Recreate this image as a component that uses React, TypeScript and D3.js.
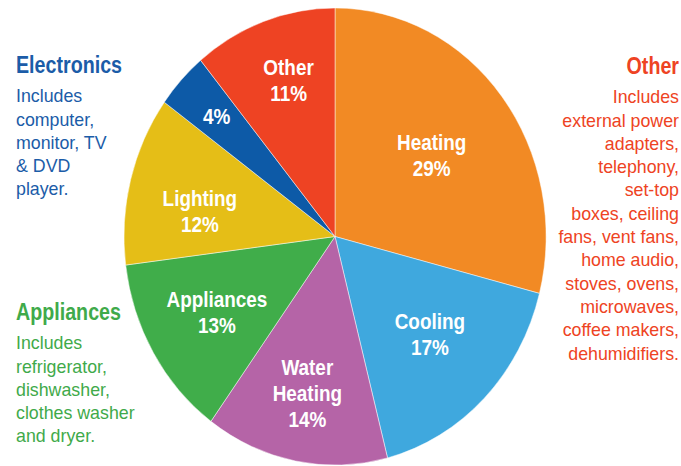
import { useEffect, useRef } from 'react'
import * as d3 from 'd3'

// data
const categories = ['Heating', 'Cooling', 'Water Heating', 'Appliances', 'Lighting', 'Electronics', 'Other']
const shares = [29, 17, 14, 13, 12, 4, 11]
const sliceLabels = [['Heating'], ['Cooling'], ['Water', 'Heating'], ['Appliances'], ['Lighting'], [], ['Other']]
const colors = ['#F28A24', '#3FA8DE', '#B564A7', '#40AD4A', '#E5BE17', '#0D5AA7', '#EE4323']

const electronicsNote = ['Includes', 'computer,', 'monitor, TV', '& DVD', 'player.']
const appliancesNote = ['Includes', 'refrigerator,', 'dishwasher,', 'clothes washer', 'and dryer.']
const otherNote = [
  'Includes', 'external power', 'adapters,', 'telephony,', 'set-top', 'boxes, ceiling',
  'fans, vent fans,', 'home audio,', 'stoves, ovens,', 'microwaves,', 'coffee makers,', 'dehumidifiers.',
]

const WIDTH = 681
const HEIGHT = 466

export default function App() {
  const svgRef = useRef<SVGSVGElement>(null)

  useEffect(() => {
    if (!svgRef.current) return
    const svg = d3.select(svgRef.current)
    svg.selectAll('*').remove()

    // pie is slightly stretched vertically in the source
    const cx = 335
    const cy = 236.5
    const rx = 211
    const ry = 228.5
    const font = '"Liberation Sans", Arial, Helvetica, sans-serif'

    const data = categories.map((name, i) => ({ name, value: shares[i], color: colors[i], lines: sliceLabels[i] }))
    const pie = d3.pie<typeof data[0]>().sort(null).value(d => d.value)
    const arcs = pie(data)
    const arc = d3.arc<d3.PieArcDatum<typeof data[0]>>().innerRadius(0).outerRadius(1)

    const g = svg.append('g').attr('transform', `translate(${cx},${cy}) scale(${rx},${ry})`)
    g.selectAll('path')
      .data(arcs)
      .enter()
      .append('path')
      .attr('d', d => arc(d) as string)
      .attr('fill', d => d.data.color)
      .attr('stroke', 'rgba(255,255,255,0.6)')
      .attr('stroke-width', 0.8)
      .attr('vector-effect', 'non-scaling-stroke')

    // label distance from centre (fraction of radius) and angle nudge (degrees)
    const labelRadius: Record<string, number> = {
      Heating: 0.58, Cooling: 0.62, 'Water Heating': 0.7, Appliances: 0.65,
      Lighting: 0.65, Electronics: 0.77, Other: 0.72,
    }
    const labelNudge: Record<string, number> = { Cooling: -1.5, Lighting: -4.5, Other: 2 }

    // condensed bold look: squeeze a regular bold face horizontally
    const squeezed = (x: number, y: number, sx: number) =>
      svg.append('g').attr('transform', `translate(${x},${y}) scale(${sx},1)`)

    const lineH = 26
    arcs.forEach(a => {
      const mid = (a.startAngle + a.endAngle) / 2 + ((labelNudge[a.data.name] || 0) * Math.PI) / 180
      const k = labelRadius[a.data.name]
      const x = cx + rx * k * Math.sin(mid)
      const y = cy - ry * k * Math.cos(mid)
      const lines = [...a.data.lines, `${a.data.value}%`]
      const top = -((lines.length - 1) * lineH) / 2
      const t = squeezed(x, y, 0.86).append('text')
        .attr('text-anchor', 'middle')
        .attr('fill', '#fff')
        .attr('font-family', font)
        .attr('font-weight', 700)
        .attr('font-size', 22)
      lines.forEach((l, i) => {
        t.append('tspan')
          .attr('x', 0)
          .attr('y', top + i * lineH)
          .attr('dy', '0.35em')
          .text(l)
      })
    })

    // side notes
    const note = (title: string, lines: string[], x: number, y: number, color: string, anchor: string) => {
      squeezed(x, y, 0.82).append('text')
        .attr('dy', '0.35em')
        .attr('text-anchor', anchor)
        .attr('fill', color)
        .attr('font-family', font)
        .attr('font-weight', 700)
        .attr('font-size', 24)
        .text(title)
      const t = svg.append('text')
        .attr('text-anchor', anchor)
        .attr('fill', color)
        .attr('font-family', font)
        .attr('font-size', 17.8)
      lines.forEach((l, i) => {
        t.append('tspan')
          .attr('x', x)
          .attr('y', y + 31 + i * 23.3)
          .attr('dy', '0.35em')
          .text(l)
      })
    }

    note('Electronics', electronicsNote, 16, 65, '#1B5CA8', 'start')
    note('Appliances', appliancesNote, 16, 312, '#3FAA4A', 'start')
    note('Other', otherNote, 679, 66, '#EE4323', 'end')
  }, [])

  return (
    <svg
      ref={svgRef}
      width={WIDTH}
      height={HEIGHT}
      style={{ position: 'absolute', left: 0, top: 0, background: '#fff' }}
    />
  )
}
